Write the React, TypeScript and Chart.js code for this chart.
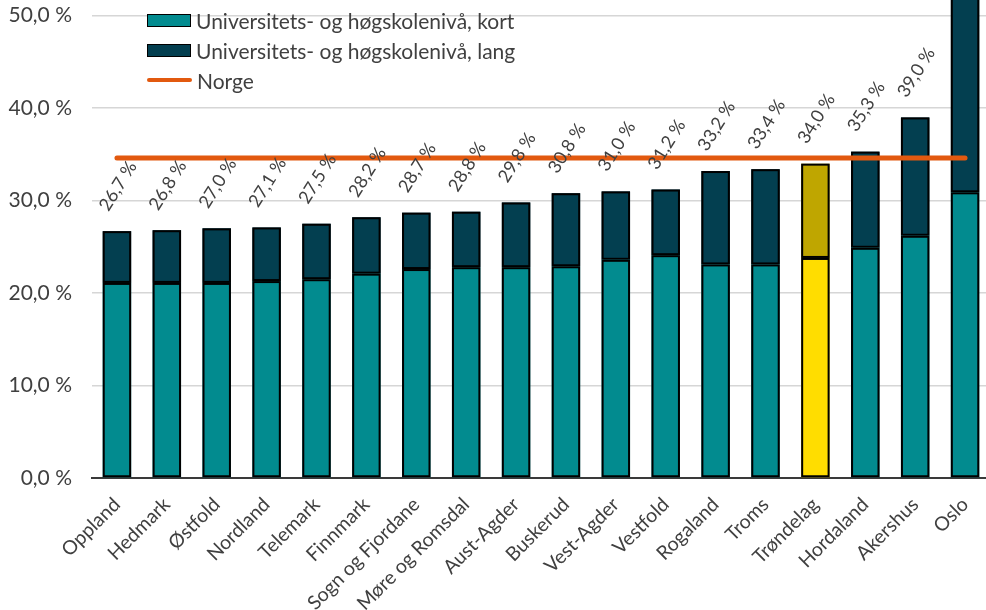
import React, { useEffect, useRef } from "react";
import { Chart, registerables } from "chart.js";

Chart.register(...registerables);

const categories = [
  "Oppland", "Hedmark", "Østfold", "Nordland", "Telemark", "Finnmark",
  "Sogn og Fjordane", "Møre og Romsdal", "Aust-Agder", "Buskerud", "Vest-Agder",
  "Vestfold", "Rogaland", "Troms", "Trøndelag", "Hordaland", "Akershus", "Oslo",
];
const shortVals = [21.1, 21.1, 21.1, 21.3, 21.5, 22.1, 22.6, 22.8, 22.8, 22.9, 23.6, 24.1, 23.1, 23.1, 23.8, 24.9, 26.2, 30.9];
const longVals = [5.6, 5.7, 5.9, 5.8, 6.0, 6.1, 6.1, 6.0, 7.0, 7.9, 7.4, 7.1, 10.1, 10.3, 10.2, 10.4, 12.8, 22.6];
const norgeVal = 34.6;
const highlightIndex = 14;
const yTicks = [0, 10, 20, 30, 40, 50];

const FONT = "Lato";
const TEXT = "#404040";
const TEAL = "#028B8F";
const DARK = "#033F50";
const YELLOW = "#FFDD00";
const OLIVE = "#BFA600";
const ORANGE = "#E2590F";

const fmt = (v: number) => v.toFixed(1).replace(".", ",") + " %";

const borderPlugin = {
  id: "barBorders",
  afterDatasetDraw(chart: any, args: any) {
    const ds = chart.data.datasets[args.index];
    if (ds.type === "line") return;
    const ctx = chart.ctx;
    const area = chart.chartArea;
    ctx.save();
    ctx.beginPath();
    ctx.rect(area.left, area.top - 2, area.right - area.left, area.bottom - area.top + 4);
    ctx.clip();
    ctx.strokeStyle = "#000000";
    ctx.lineWidth = 2;
    args.meta.data.forEach((el: any) => {
      const p = el.getProps(["x", "y", "base", "width"], true);
      const left = p.x - p.width / 2;
      const top = Math.min(p.y, p.base);
      const bottom = Math.max(p.y, p.base);
      ctx.strokeRect(left + 1, top + 1, p.width - 2, bottom - top - 2);
    });
    ctx.restore();
  },
};

const labelPlugin = {
  id: "stackLabels",
  afterDatasetsDraw(chart: any) {
    const ctx = chart.ctx;
    const y = chart.scales.y;
    const meta = chart.getDatasetMeta(1);
    ctx.save();
    ctx.font = `18px ${FONT}`;
    ctx.fillStyle = TEXT;
    ctx.textAlign = "center";
    ctx.textBaseline = "middle";
    categories.forEach((_, i) => {
      const total = shortVals[i] + longVals[i];
      const el = meta.data[i];
      const px = el.x + 1;
      const py = y.getPixelForValue(total) - 45;
      ctx.save();
      ctx.translate(px, py);
      ctx.rotate((-58 * Math.PI) / 180);
      ctx.fillText(fmt(total), 0, 0);
      ctx.restore();
    });
    ctx.restore();
  },
};

export default function App() {
  const ref = useRef<HTMLCanvasElement | null>(null);

  useEffect(() => {
    if (!ref.current) return;
    const shortColors = categories.map((_, i) => (i === highlightIndex ? YELLOW : TEAL));
    const longColors = categories.map((_, i) => (i === highlightIndex ? OLIVE : DARK));
    const chart = new Chart(ref.current, {
      type: "bar",
      data: {
        labels: categories,
        datasets: [
          {
            type: "line",
            label: "Norge",
            data: categories.map(() => norgeVal),
            borderColor: ORANGE,
            borderWidth: 5,
            borderCapStyle: "round",
            pointRadius: 0,
            order: 0,
            stack: "line",
          } as any,
          {
            label: "Universitets- og høgskolenivå, kort",
            data: shortVals,
            backgroundColor: shortColors,
            borderWidth: 0,
            barPercentage: 0.57,
            categoryPercentage: 1,
            order: 1,
            stack: "s",
          },
          {
            label: "Universitets- og høgskolenivå, lang",
            data: longVals,
            backgroundColor: longColors,
            borderWidth: 0,
            barPercentage: 0.57,
            categoryPercentage: 1,
            order: 1,
            stack: "s",
          },
        ],
      },
      options: {
        animation: false,
        responsive: true,
        maintainAspectRatio: false,
        layout: { padding: 0 },
        plugins: {
          legend: { display: false },
          tooltip: { enabled: false },
        },
        scales: {
          x: {
            stacked: true,
            grid: { display: false },
            border: { display: true, color: "#3a3a3a", width: 2 },
            ticks: {
              color: TEXT,
              font: { family: FONT, size: 19.5 },
              minRotation: 45,
              maxRotation: 45,
              padding: 7,
              autoSkip: false,
            },
            afterFit(scale: any) {
              scale.height = 132;
              scale.paddingLeft = 0;
              scale.paddingRight = 0;
            },
          },
          y: {
            stacked: true,
            min: 0,
            max: 51.7,
            grid: { color: "#D6D6D6", lineWidth: 1.5, drawTicks: false },
            border: { display: false },
            ticks: {
              color: TEXT,
              font: { family: FONT, size: 21 },
              padding: 20,
              stepSize: 10,
              includeBounds: false,
              callback: (v: any) => fmt(Number(v)),
            },
            afterBuildTicks(scale: any) {
              scale.ticks = yTicks.map((v) => ({ value: v }));
            },
            afterFit(scale: any) {
              scale.width = 92;
              scale.paddingTop = 0;
              scale.paddingBottom = 0;
            },
          },
        },
      },
      plugins: [borderPlugin, labelPlugin],
    } as any);
    return () => chart.destroy();
  }, []);

  const rowStyle: React.CSSProperties = {
    display: "flex",
    alignItems: "center",
    height: 30,
  };
  const swatch = (color: string): React.CSSProperties => ({
    width: 42,
    height: 11,
    background: color,
    border: "1.5px solid #000",
    marginRight: 5,
  });

  return (
    <div style={{ position: "fixed", left: 0, top: 0, width: 990, height: 610, background: "#fff" }}>
      <canvas ref={ref} />
      <div
        style={{
          position: "absolute",
          left: 147,
          top: 5,
          fontFamily: FONT,
          fontSize: 21,
          color: TEXT,
          lineHeight: 1,
        }}
      >
        <div style={rowStyle}>
          <div style={swatch(TEAL)} />
          <span>Universitets- og høgskolenivå, kort</span>
        </div>
        <div style={rowStyle}>
          <div style={swatch(DARK)} />
          <span>Universitets- og høgskolenivå, lang</span>
        </div>
        <div style={rowStyle}>
          <div style={{ width: 45, height: 4, background: ORANGE, borderRadius: 2, marginRight: 5 }} />
          <span>Norge</span>
        </div>
      </div>
    </div>
  );
}
